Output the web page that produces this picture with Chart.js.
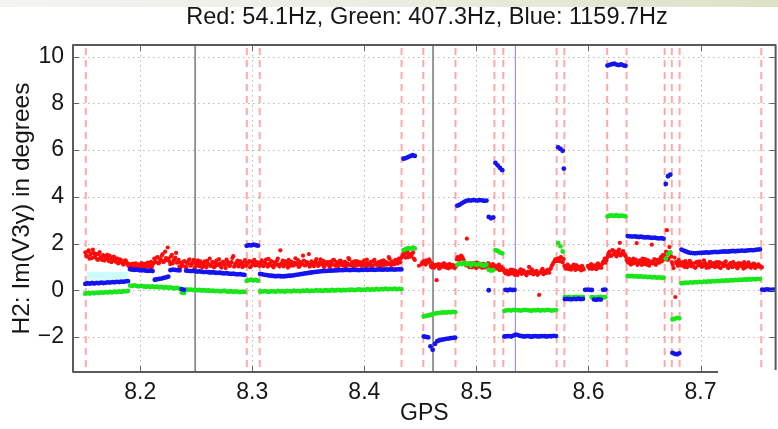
<!DOCTYPE html>
<html>
<head>
<meta charset="utf-8">
<script src="https://cdn.jsdelivr.net/npm/chart.js@4.4.1/dist/chart.umd.min.js"></script>
<style>
  html, body { margin: 0; padding: 0; background: #fff; }
  #wrap { position: relative; width: 778px; height: 429px; overflow: hidden; background: #fff; }
  #wrap canvas { position: absolute; left: 0; top: 0; }
  #topband { position: absolute; left: 0; top: 0; width: 778px; height: 7px;
    background: linear-gradient(to right, #f4f4f2 0%, #eceee4 45%, #dde2c6 100%); }
</style>
</head>
<body>
<div id="wrap">
  <canvas id="chart" width="778" height="429"></canvas>
  <div id="topband"></div>
</div>
<script>
// ---- sampling of the three harmonic phase series (GPS time, degrees) ----
// the 54.1 Hz channel is stored as two interleaved sample trains
const redStartGps = 8.151, redStartGpsB = 8.15175, redStepGps = 0.0015;   // 54.1 Hz
const gbStartGps = 8.151, gbStepGps = 0.002;                              // 407.3 Hz and 1159.7 Hz

const chartTitle = 'Red: 54.1Hz, Green: 407.3Hz, Blue: 1159.7Hz';

const redDeg = [
  // 8.151 - 8.189
  1.62, 1.45, 1.71, 1.52, 1.38, 1.60, 1.49, 1.33, 1.55, 1.41, 1.29, 1.47, 1.36, 1.52, 1.25, 1.39, 1.31, 1.44, 1.22, 1.35, 1.18, 1.30, 1.24, 1.12, 1.28, 1.16,
  // 8.190 - 8.211
  1.02, 1.12, 0.98, 1.08, 1.15, 0.95, 1.05, 1.10, 0.99, 1.13, 1.04, 1.18, 1.01, 1.22, 1.09,
  // 8.212 - 8.235
  1.35, 1.21, 1.42, 1.18, 1.30, 1.55, 1.26, 1.38, 1.83, 1.24, 1.45, 1.15, 1.33, 1.60, 1.20, 1.02,
  // 8.236 - 8.306
  1.18, 1.05, 1.25, 0.98, 1.14, 1.32, 1.08, 1.20, 0.96, 1.12, 1.28, 1.03, 1.16, 1.09, 1.24, 0.99, 1.13, 1.35, 1.06, 1.19,
  1.01, 1.27, 1.10, 1.15, 0.97, 1.22, 1.08, 1.31, 1.12, 1.04, 1.20, 1.46, 1.09, 1.17, 1.02, 1.25, 1.13, 1.07, 1.29, 1.11,
  1.18, 0.99, 1.23, 1.14, 1.06, 1.21, 1.10,
  // 8.307 - 8.432
  1.15, 1.28, 1.03, 1.19, 1.10, 1.34, 1.07, 1.22, 0.98, 1.16, 1.26, 1.09, 1.71, 1.13, 1.02, 1.24, 1.11, 1.30, 1.05, 1.18,
  1.08, 1.37, 1.14, 1.00, 1.21, 1.12, 1.27, 1.06, 1.19, 1.55, 1.09, 1.16, 1.03, 1.25, 1.13, 1.08, 1.32, 1.11, 0.99, 1.20,
  1.14, 1.06, 1.23, 1.10, 1.29, 1.04, 1.17, 1.12, 1.26, 1.07, 1.19, 1.02, 1.15, 1.33, 1.09, 1.21, 1.13, 1.05, 1.24, 1.11,
  1.18, 1.08, 1.28, 1.03, 1.16, 1.12, 1.22, 1.06, 1.30, 1.10, 1.17, 1.04, 1.25, 1.13, 1.09, 1.20, 1.15, 1.35, 1.07, 1.19,
  1.11, 1.26, 1.14, 1.23,
  // 8.433 - 8.451
  1.38, 1.52, 1.45, 1.60, 1.41, 1.55, 1.48, 1.62, 1.30, null, null, null, 1.12,
  // 8.452 - 8.481
  1.15, 1.22, 1.28, 1.19, 1.25, 0.98, 1.08, 1.02, 0.43, 1.12, 0.96, 1.06, 1.14, 1.00, 1.09, 0.94, 1.11, 1.03, 1.07, 0.99,
  // 8.482 - 8.515
  1.32, 1.40, 1.36, 1.45, 1.30, 1.12, 2.21, 1.05, 1.15, 0.98, 1.10, 1.04, 1.18, 1.01, 1.09, 0.96, 1.12, 1.06, 1.00, 1.14,
  1.03, 0.95, 1.08,
  // 8.517 - 8.523
  1.02, 0.92, 1.10, 0.97, 0.88,
  // 8.524 - 8.571
  0.85, 0.72, 0.80, 0.68, 0.88, 0.75, 0.70, 0.83, 0.65, 0.78, 0.90, 0.73, 0.81, 0.69, 0.76, 1.00, 0.74, 0.86, 0.71, 0.79,
  0.66, -0.20, 0.77, 0.92, 0.72, 0.80, 0.87, 0.75, 0.95, 1.10, 1.22, 1.30,
  // 8.572 - 8.577
  1.35, 1.25, 1.42, 1.20,
  // 8.578 - 8.616
  1.05, 0.92, 1.10, 0.98, 0.88, 1.02, 0.95, 1.08, 0.91, 1.00, 0.85, 0.97, null, null, 1.04, 0.93, 1.12, 0.99, 1.07, 0.90,
  1.15, 1.01, 0.96, 1.20, 1.35, 1.28,
  // 8.617 - 8.632
  1.52, 1.65, 1.48, 1.70, 1.58, 1.45, 1.62, 2.03, 1.55, 1.68, 1.50,
  // 8.634 - 8.667
  1.30, 1.18, 1.25, 1.12, 1.35, 1.20, 2.02, 1.15, 1.28, 1.08, 1.22, 1.33, 1.10, 1.26, 1.17, 1.95, 1.21, 1.13, 1.30, 1.19,
  1.36, 1.24, 1.40,
  // 8.668 - 8.681
  1.50, 2.57, 1.35, 1.62, 1.20, 0.95, -0.29, 1.15, 1.30,
  // 8.682 - 8.754
  1.18, 1.05, 1.12, 1.25, 0.98, 1.10, 1.20, 1.03, 1.15, 0.96, 1.22, 1.08, 1.14, 1.01, 1.28, 1.06, 1.11, 0.97, 1.19, 1.04,
  1.16, 1.09, 1.02, 1.21, 0.95, 1.13, 1.07, 1.24, 1.00, 1.10, 1.17, 0.99, 1.05, 1.12, 0.94, 1.08, 1.15, 1.02, 1.20, 0.98,
  1.06, 1.11, 0.96, 1.04, 1.13, 0.99, 1.07, 1.01, 0.97
];

const redDegB = [
  // 8.152 - 8.190
  1.48, 1.66, 1.35, 1.58, 1.74, 1.42, 1.55, 1.30, 1.63, 1.37, 1.50, 1.27, 1.45, 1.33, 1.48, 1.20, 1.41, 1.28, 1.36, 1.15, 1.32, 1.21, 1.10, 1.26, 1.14, 1.08,
  // 8.191 - 8.212
  1.10, 0.96, 1.14, 1.03, 0.92, 1.11, 1.00, 1.16, 1.06, 0.94, 1.12, 1.02, 1.08, 0.97, 1.15,
  // 8.213 - 8.236
  1.22, 1.40, 1.15, 1.33, 1.48, 1.20, 1.65, 1.29, 1.36, 1.12, 1.52, 1.27, 1.40, 1.18, 1.30, 0.95,
  // 8.237 - 8.307
  1.09, 1.22, 1.01, 1.17, 1.28, 1.05, 1.15, 1.30, 1.00, 1.19, 1.07, 1.24, 0.97, 1.14, 1.02, 1.26, 1.11, 1.04, 1.21, 0.98,
  1.16, 1.09, 1.33, 1.03, 1.18, 1.12, 0.95, 1.23, 1.06, 1.17, 1.38, 1.01, 1.14, 1.27, 1.08, 1.19, 0.99, 1.22, 1.05, 1.16,
  1.25, 1.02, 1.13, 1.30, 1.07, 1.18, 1.04,
  // 8.308 - 8.433
  1.22, 1.06, 1.17, 1.31, 1.01, 1.14, 1.25, 1.04, 1.19, 1.09, 1.36, 1.02, 1.15, 1.27, 1.08, 1.20, 0.97, 1.13, 1.23, 1.05,
  1.18, 1.10, 1.29, 1.03, 1.16, 1.48, 1.07, 1.21, 1.12, 1.01, 1.24, 1.09, 1.17, 1.33, 1.04, 1.19, 1.11, 1.26, 1.06, 1.14,
  1.21, 1.00, 1.16, 1.30, 1.08, 1.20, 1.03, 1.27, 1.13, 1.05, 1.22, 1.10, 1.38, 1.06, 1.17, 1.02, 1.25, 1.14, 1.09, 1.19,
  1.04, 1.23, 1.12, 1.31, 1.07, 1.18, 1.00, 1.26, 1.15, 1.09, 1.21, 1.13, 1.05, 1.28, 1.17, 1.10, 1.42, 1.16, 1.24, 1.12,
  1.30, 1.18, 1.35, 1.20,
  // 8.434 - 8.452
  1.46, 1.58, 1.40, 1.66, 1.50, 1.44, 1.57, 1.35, null, null, 1.05, null, 1.20,
  // 8.453 - 8.482
  1.26, 1.10, 1.20, 1.32, 1.05, 1.14, 0.96, 1.09, 1.03, 0.92, 1.10, 1.01, 1.15, 0.97, 1.05, 1.12, 0.98, 1.08, 0.95, 1.04,
  // 8.483 - 8.516
  1.42, 1.30, 1.48, 1.38, 1.22, 1.06, 1.14, 0.99, 1.10, 1.03, 1.17, 0.95, 1.07, 1.13, 1.02, 1.11, 0.97, 1.08, 1.15, 0.99,
  1.06, 1.12, 1.00,
  // 8.518 - 8.524
  0.95, 1.05, 0.86, 1.00, 0.93,
  // 8.525 - 8.572
  0.76, 0.84, 0.69, 0.79, 0.72, 0.87, 0.66, 0.78, 0.74, 0.82, 0.70, 0.85, 0.77, 0.64, 0.80, 0.73, 0.89, 0.68, 0.78, 0.83,
  0.71, 0.76, 0.86, 0.69, 0.81, 0.74, 0.79, 0.90, 1.05, 1.18, 1.32, 1.25,
  // 8.573 - 8.578
  1.28, 1.40, 1.22, 1.33,
  // 8.579 - 8.617
  0.96, 1.07, 0.90, 1.01, 0.94, 1.10, 0.87, 1.03, 0.97, 0.92, 1.05, 0.89, null, null, 0.98, 1.08, 0.91, 1.03, 0.95, 1.10,
  0.97, 1.06, 1.12, 1.25, 1.18, 1.40,
  // 8.618 - 8.633
  1.60, 1.47, 1.72, 1.55, 1.66, 1.52, 1.74, 1.49, 1.63, 1.56, 1.44,
  // 8.635 - 8.668
  1.22, 1.34, 1.10, 1.27, 1.16, 1.31, 1.08, 1.24, 1.19, 1.36, 1.12, 1.20, 1.29, 1.05, 1.23, 1.15, 1.33, 1.09, 1.26, 1.18,
  1.42, 1.50, 1.32,
  // 8.669 - 8.682
  1.65, 1.30, 1.85, 1.45, 1.10, 1.40, 1.22, 1.05, 1.18,
  // 8.683 - 8.755
  1.12, 1.21, 1.00, 1.16, 1.07, 1.26, 1.03, 1.13, 0.98, 1.19, 1.06, 1.24, 1.01, 1.11, 1.18, 0.96, 1.09, 1.22, 1.04, 1.14,
  0.99, 1.20, 1.08, 0.97, 1.15, 1.03, 1.18, 1.06, 0.95, 1.12, 1.02, 1.21, 1.07, 0.98, 1.16, 1.04, 1.10, 0.93, 1.13, 1.05,
  1.19, 1.00, 1.09, 1.14, 0.95, 1.06, 1.11, 1.02, 0.99
];

const greenDeg = [
  -0.15, -0.12, -0.14, -0.11, -0.13, -0.10, -0.12, -0.09, -0.11, -0.08, -0.10, -0.07, -0.09, -0.06, -0.08, -0.05, -0.07, -0.04, -0.05, -0.03,
  0.20, 0.19, 0.21, 0.18, 0.17, 0.19, 0.16, 0.15, 0.17, 0.14, 0.16, 0.13, 0.15, 0.12, 0.14, 0.11, 0.13, 0.10, 0.12, 0.09, 0.08, 0.10, 0.07,
  -0.10, -0.12,
  0.04, 0.02, 0.03, 0.01, 0.02, 0.00, 0.01, -0.01, 0.00, -0.02, -0.01, -0.03, -0.02, -0.04, -0.03, -0.05, -0.04, -0.02, -0.05, -0.06,
  -0.04, -0.07, -0.05, -0.06, -0.08, -0.06, -0.07,
  0.40, 0.43, 0.45, 0.42, 0.44, 0.41,
  -0.05, -0.06, -0.04, -0.05, -0.07, -0.04, -0.05, -0.06, -0.03, -0.05, -0.04, -0.06, -0.03, -0.04, -0.05, -0.02, -0.04, -0.03, -0.05, -0.02,
  -0.03, -0.01, -0.04, -0.02, -0.03, 0.00, -0.02, -0.01, -0.03, 0.00, -0.01, -0.02, 0.01, -0.01, 0.00, 0.02, -0.01, 0.01, 0.00, 0.02,
  0.01, 0.03, 0.00, 0.02, 0.04, 0.01, 0.03, 0.02, 0.05, 0.02, 0.04, 0.03, 0.06, 0.03, 0.05, 0.04, 0.07, 0.04, 0.06, 0.05,
  0.07, 0.04, 0.06, 0.05,
  1.72, 1.76, 1.80, 1.78, 1.82, 1.79, null, null, null,
  -1.12, -1.10, -1.08, -1.06, -1.02, -1.00, -0.98, -0.97, -0.96, -0.95, -0.96, -0.94, -0.95, -0.93, -0.94,
  1.08, 1.15, 1.12, 1.18, 1.10, 1.14, 1.06, 1.16, 1.11, 1.09, 1.13, 1.07, 1.05, 1.10, 0.88, 0.84, 0.86,
  1.72, 1.68, 1.62, 1.58,
  -0.88, -0.86, -0.85, -0.87, -0.84, -0.86, -0.85, -0.87, -0.86, -0.84, -0.85, -0.86, -0.88, -0.85, -0.86, -0.84, -0.87, -0.85, -0.86, -0.84,
  -0.85, -0.87, -0.86, -0.85,
  2.02, 1.88, 1.66,
  -0.30, -0.31, -0.29, -0.32, -0.30, -0.28, -0.31, -0.30, -0.29, null, null, null, -0.30, -0.31, -0.32, -0.30, -0.29, -0.31, -0.30,
  3.16, 3.19, 3.20, 3.18, 3.21, 3.17, 3.19, 3.18, 3.16,
  0.61, 0.60, 0.61, 0.59, 0.60, 0.58, 0.59, 0.57, 0.58, 0.56, 0.57, 0.55, 0.56, 0.54, 0.55, 0.53, 0.54,
  1.35, 1.55, 1.62,
  -1.25, -1.22, -1.18, -1.20,
  0.30, 0.31, 0.33, 0.32, 0.34, 0.33, 0.35, 0.34, 0.36, 0.35, 0.37, 0.36, 0.38, 0.37, 0.39, 0.38, 0.40, 0.39, 0.41, 0.40,
  0.42, 0.41, 0.43, 0.42, 0.44, 0.43, 0.45, 0.44, 0.46, 0.45, 0.47, 0.46, 0.48, 0.47, 0.49, 0.48,
  null, null, null, null, null, null, null
];

const blueDeg = [
  0.27, 0.30, 0.28, 0.31, 0.29, 0.32, 0.30, 0.33, 0.31, 0.32, 0.34, 0.33, 0.35, 0.34, 0.36, 0.35, 0.37, 0.36, 0.38, 0.39,
  0.90, 0.88, 0.87, 0.88, 0.86, 0.85, 0.86, 0.84, 0.83, 0.84, 0.82,
  0.45, 0.47, 0.49, 0.50, 0.53, 0.55, 0.58,
  0.86, 0.88, 0.87, 0.86, 0.85,
  0.05, 0.02,
  0.84, 0.83, 0.82, 0.83, 0.81, 0.80, 0.81, 0.79, 0.78, 0.79, 0.77, 0.76, 0.77, 0.75, 0.74, 0.75, 0.73, 0.72, 0.73, 0.71,
  0.70, 0.71, 0.69, 0.68, 0.69, 0.67, 0.66,
  1.90, 1.93, 1.92, 1.95, 1.93, 1.91,
  0.70, 0.68, 0.66, 0.65, 0.63, 0.62, 0.61, 0.60, 0.61, 0.60, 0.59, 0.60, 0.61,
  0.62, 0.63, 0.64, 0.66, 0.67, 0.69, 0.70, 0.72, 0.73, 0.75, 0.76, 0.78, 0.79, 0.80, 0.81,
  0.82, 0.82, 0.83, 0.84, 0.84, 0.85, 0.85, 0.86, 0.86, 0.86, 0.87, 0.87, 0.86, 0.87, 0.87,
  0.87, 0.86, 0.87, 0.87, 0.88, 0.87, 0.88, 0.88, 0.87, 0.88, 0.89, 0.88, 0.88, 0.89, 0.88, 0.89, 0.89, 0.88, 0.89, 0.90, 0.89,
  5.63, 5.66, 5.70, 5.74, 5.78, 5.75, null, null, null,
  -1.98, -2.00, -2.02, -2.40, -2.55, -2.30, -2.18, -2.14, -2.12, -2.10, -2.08, -2.07, -2.05, -2.04, -2.03,
  3.62, 3.66, 3.72, 3.78, 3.83, 3.85, 3.84, 3.86, 3.85, 3.84, 3.86, 3.85, 3.83, 3.84,
  3.14, 3.08, 3.12,
  5.45, 5.35, 5.24, 5.14,
  -1.98, -1.97, -1.96, -1.98, -1.94, -1.90, -1.92, -1.95, -1.97, -1.98, -1.96, -1.97, -1.99, -1.97, -1.96, -1.98, -1.97, -1.96, -1.97, -1.98,
  -1.96, -1.97, -1.95, -1.96,
  6.12, 6.05, 5.97,
  -0.38, -0.37, -0.38, -0.39, -0.37, -0.38, -0.36, -0.38, -0.37, 0.02, 0.03, 0.02, 0.01, -0.40, -0.41, -0.39, -0.40, 0.02, 0.03,
  9.62, 9.65, 9.68, 9.70, 9.66, 9.64, 9.67, 9.63, 9.61,
  2.32, 2.31, 2.30, 2.31, 2.29, 2.28, 2.29, 2.27, 2.26, 2.27, 2.25, 2.24, 2.25, 2.23, 2.22, 2.23, 2.21,
  4.55, 4.88, 4.95,
  -2.68, -2.72, -2.74, -2.70,
  1.74, 1.70, 1.66, 1.62, 1.60, 1.59, 1.58, 1.59, 1.60, 1.60, 1.61, 1.62, 1.61, 1.62, 1.63, 1.64, 1.63, 1.64, 1.65, 1.66,
  1.65, 1.66, 1.67, 1.68, 1.67, 1.68, 1.69, 1.70, 1.69, 1.70, 1.71, 1.72, 1.71, 1.73, 1.74, 1.75,
  0.03, 0.02, 0.04, 0.03, 0.02, 0.03, 0.02
];

// isolated blue samples off the main track
const blueExtraGps = [8.511, 8.526, 8.528, 8.530, 8.532, 8.534, 8.578];
const blueExtraDeg = [0.00, 0.02, 0.00, 0.03, 0.01, 0.02, 5.21];

// faint cyan band near the start of the run
const cyanBandGps = [8.152, 8.189];
const cyanBandTop = [0.78, 0.78];
const cyanBandBase = 0.45;

// event markers (GPS)
const redMarkers = [8.1514, 8.2951, 8.3066, 8.4332, 8.4526, 8.4813, 8.5161, 8.5240, 8.5716, 8.5785,
                    8.6167, 8.6340, 8.6680, 8.6744, 8.6813, 8.7542];
const grayMarkers = [8.2490, 8.4613];
const blueMarkers = [8.5348];

// axes
const xTickValues = [8.2, 8.3, 8.4, 8.5, 8.6, 8.7];
const xTickLabels = ['8.2', '8.3', '8.4', '8.5', '8.6', '8.7'];
const yTickValues = [-2, 0, 2, 4, 6, 8, 10];
const yTickLabels = ['\u22122', '0', '2', '4', '6', '8', '10'];

const toPoints = (vals, start, step) =>
  vals.map((v, i) => ({ x: start + i * step, y: v })).filter(p => p.y !== null);

const redPoints = toPoints(redDeg, redStartGps, redStepGps)
  .concat(toPoints(redDegB, redStartGpsB, redStepGps));
const bluePoints = toPoints(blueDeg, gbStartGps, gbStepGps)
  .concat(blueExtraGps.map((g, i) => ({ x: g, y: blueExtraDeg[i] })));

const FONT = "'Liberation Sans', Arial, Helvetica, sans-serif";
const INK = '#161616';

function line(ctx, x1, y1, x2, y2) {
  ctx.beginPath(); ctx.moveTo(x1, y1); ctx.lineTo(x2, y2); ctx.stroke();
}

const axesDecor = {
  id: 'axesDecor',
  beforeDatasetsDraw(chart) {
    const { ctx, chartArea: a, scales: { x, y } } = chart;
    ctx.save();
    // dotted grid
    ctx.strokeStyle = '#b8b8b8';
    ctx.lineWidth = 1;
    ctx.setLineDash([1.5, 3.5]);
    xTickValues.forEach(v => {
      const px = Math.round(x.getPixelForValue(v)) + 0.5;
      line(ctx, px, a.top, px, a.bottom);
    });
    yTickValues.forEach(v => {
      const py = Math.round(y.getPixelForValue(v)) + 0.5;
      line(ctx, a.left, py, a.right, py);
    });
    // dashed red event markers
    ctx.setLineDash([7, 5]);
    ctx.lineDashOffset = -3;
    ctx.strokeStyle = 'rgba(255,110,110,0.6)';
    ctx.lineWidth = 2;
    redMarkers.forEach(g => {
      const px = x.getPixelForValue(g);
      line(ctx, px, a.top, px, a.bottom);
    });
    ctx.setLineDash([]);
    ctx.strokeStyle = 'rgba(120,120,120,0.85)';
    ctx.lineWidth = 1.8;
    grayMarkers.forEach(g => {
      const px = x.getPixelForValue(g);
      line(ctx, px, a.top, px, a.bottom);
    });
    ctx.strokeStyle = 'rgba(120,120,255,0.8)';
    ctx.lineWidth = 1.2;
    blueMarkers.forEach(g => {
      const px = x.getPixelForValue(g);
      line(ctx, px, a.top, px, a.bottom);
    });
    ctx.restore();
  },
  afterDatasetsDraw(chart) {
    const { ctx, chartArea: a, scales: { x, y } } = chart;
    ctx.save();
    // inward tick marks on all four sides
    ctx.strokeStyle = '#666';
    ctx.lineWidth = 1;
    xTickValues.forEach(v => {
      const px = Math.round(x.getPixelForValue(v)) + 0.5;
      line(ctx, px, a.bottom, px, a.bottom - 6);
      line(ctx, px, a.top, px, a.top + 6);
    });
    yTickValues.forEach(v => {
      const py = Math.round(y.getPixelForValue(v)) + 0.5;
      line(ctx, a.left, py, a.left + 6, py);
      line(ctx, a.right, py, a.right - 6, py);
    });
    // axes box
    ctx.strokeStyle = '#5a5a5a';
    ctx.lineWidth = 2;
    ctx.lineJoin = 'round';
    ctx.strokeRect(a.left, a.top, a.right - a.left, a.bottom - a.top);
    // blank strip at the lower right corner of the frame
    ctx.fillStyle = '#fff';
    ctx.fillRect(718, a.bottom - 2, 60, 4);
    // title, centred over the full (wider) figure axes
    ctx.fillStyle = INK;
    ctx.font = '23.5px ' + FONT;
    ctx.textAlign = 'center';
    ctx.textBaseline = 'middle';
    ctx.fillText(chartTitle, 427, 18);
    ctx.restore();
  }
};

const scatterPoint = (color, r) => ({
  pointRadius: r, pointHoverRadius: r, pointBorderWidth: 0,
  pointBackgroundColor: color, borderColor: color, backgroundColor: color, showLine: false
});

new Chart(document.getElementById('chart'), {
  type: 'scatter',
  data: {
    datasets: [
      Object.assign({ label: 'Blue: 1159.7Hz', data: bluePoints }, scatterPoint('rgb(20,20,240)', 2.4)),
      Object.assign({ label: 'Green: 407.3Hz', data: toPoints(greenDeg, gbStartGps, gbStepGps) }, scatterPoint('rgb(25,230,25)', 2.4)),
      Object.assign({ label: 'Red: 54.1Hz', data: redPoints }, scatterPoint('rgb(255,10,10)', 2.1)),
      {
        label: 'band', type: 'line',
        data: cyanBandGps.map((g, i) => ({ x: g, y: cyanBandTop[i] })),
        borderWidth: 0, pointRadius: 0, borderColor: 'rgba(0,0,0,0)',
        backgroundColor: 'rgb(205,250,250)', fill: { value: cyanBandBase }
      }
    ]
  },
  options: {
    responsive: false,
    animation: false,
    devicePixelRatio: 1,
    layout: { padding: { left: 0, right: 2, top: 45, bottom: 0 } },
    plugins: {
      legend: { display: false },
      tooltip: { enabled: false },
      title: { display: false }
    },
    scales: {
      x: {
        type: 'linear', min: 8.14, max: 8.767,
        grid: { display: false, drawTicks: false },
        border: { display: false },
        afterBuildTicks: s => { s.ticks = xTickValues.map(v => ({ value: v })); },
        afterFit: s => { s.height = 57; },
        ticks: {
          padding: 7, color: INK, maxRotation: 0, autoSkip: false,
          font: { family: FONT, size: 23 },
          callback: v => xTickLabels[xTickValues.indexOf(v)]
        },
        title: {
          display: true, text: 'GPS', color: INK,
          font: { family: FONT, size: 23, lineHeight: 1.2 },
          padding: { top: 0, bottom: 2 }
        }
      },
      y: {
        type: 'linear', min: -3.5, max: 10.5,
        grid: { display: false, drawTicks: false },
        border: { display: false },
        afterBuildTicks: s => { s.ticks = yTickValues.map(v => ({ value: v })); },
        afterFit: s => { s.width = 73; },
        ticks: {
          padding: 9, color: INK, autoSkip: false,
          font: { family: FONT, size: 23 },
          callback: v => yTickLabels[yTickValues.indexOf(v)]
        },
        title: {
          display: true, text: 'H2: Im(V3\u03b3) in degrees', color: INK,
          font: { family: FONT, size: 24.5, lineHeight: 1.2 },
          padding: { top: 8, bottom: 0 }
        }
      }
    }
  },
  plugins: [axesDecor]
});
</script>
</body>
</html>
